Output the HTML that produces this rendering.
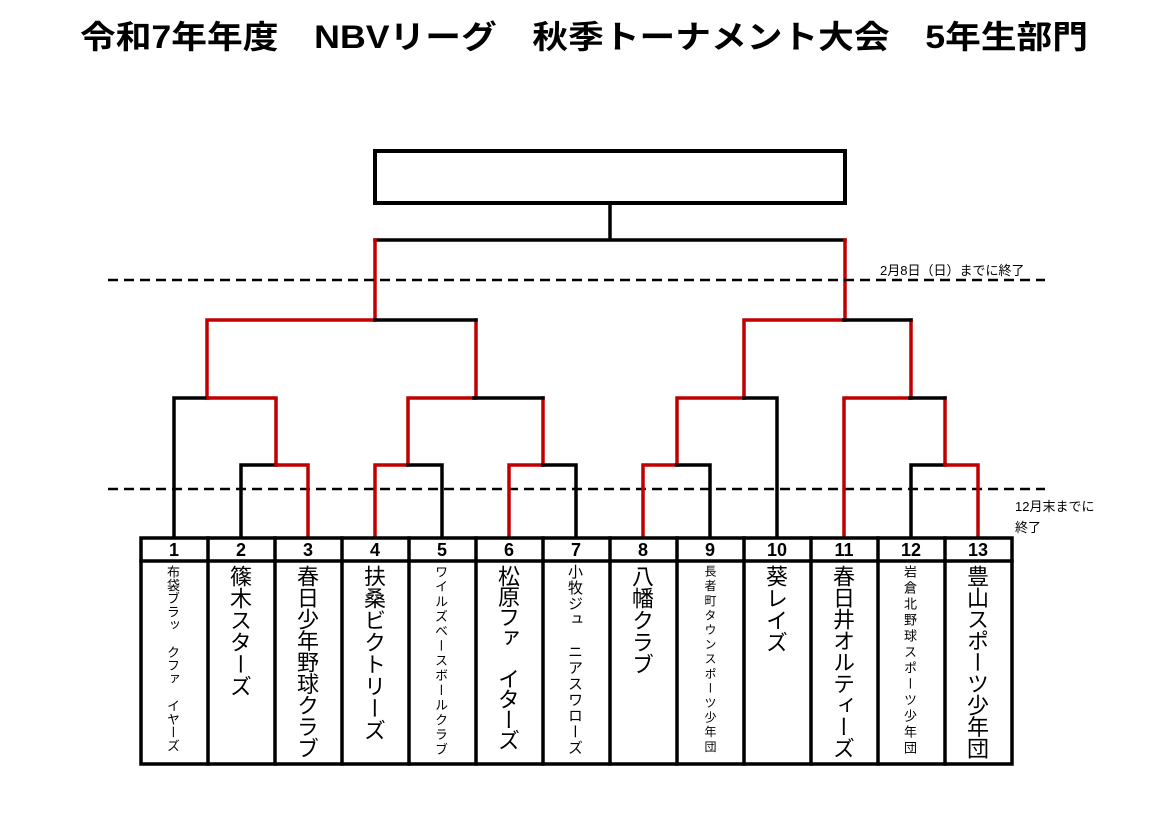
<!DOCTYPE html>
<html><head><meta charset="utf-8"><style>
body{margin:0;background:#fff;width:1169px;height:826px;overflow:hidden;position:relative;font-family:"Liberation Sans","Noto Sans CJK JP",sans-serif}
svg{position:absolute;left:0;top:0}
.v{position:absolute;writing-mode:vertical-rl;text-orientation:upright;font-family:"Noto Sans CJK JP","Liberation Sans",sans-serif;color:#000;white-space:pre;line-height:1}
</style></head><body>
<svg width="1169" height="826" xmlns="http://www.w3.org/2000/svg">
<text x="80" y="48" font-size="32" font-weight="bold" textLength="1008" lengthAdjust="spacingAndGlyphs" font-family="Liberation Sans, Noto Sans CJK JP, sans-serif">令和7年年度　NBVリーグ　秋季トーナメント大会　5年生部門</text>
<g fill="none" stroke-width="3.5" stroke-linecap="square">
<rect x="375" y="151" width="470" height="52" stroke="#000" stroke-width="4"/>
<path d="M610 203V240M375 240H845" stroke="#000"/>
<path d="M375 240V320M845 240V320" stroke="#c00000"/>
<path d="M108 280H1045M108 489H1045" stroke="#000" stroke-width="2.5" stroke-dasharray="10 6" stroke-linecap="butt"/>
<path d="M207 320H375M207 320V398M476 320V398" stroke="#c00000"/>
<path d="M375 320H476" stroke="#000"/>
<path d="M174 398H208M174 398V537" stroke="#000"/>
<path d="M208 398H276V465" stroke="#c00000"/>
<path d="M241 465H276M241 465V537" stroke="#000"/>
<path d="M276 465H308V537" stroke="#c00000"/>
<path d="M408 398H474M408 398V465M543 398V465" stroke="#c00000"/>
<path d="M474 398H543" stroke="#000"/>
<path d="M375 465H408M375 465V537" stroke="#c00000"/>
<path d="M408 465H442V537" stroke="#000"/>
<path d="M509 465H543M509 465V537" stroke="#c00000"/>
<path d="M543 465H576V537" stroke="#000"/>
<path d="M744 320H844M744 320V398M911 320V398" stroke="#c00000"/>
<path d="M844 320H911" stroke="#000"/>
<path d="M677 398H744M677 398V465" stroke="#c00000"/>
<path d="M744 398H777V537" stroke="#000"/>
<path d="M643 465H677M643 465V537" stroke="#c00000"/>
<path d="M677 465H710V537" stroke="#000"/>
<path d="M844 398H910M844 398V537M945 398V465" stroke="#c00000"/>
<path d="M910 398H945" stroke="#000"/>
<path d="M911 465H945M911 465V537" stroke="#000"/>
<path d="M945 465H978V537" stroke="#c00000"/>
<rect x="141" y="538" width="871" height="226" stroke="#000" stroke-width="3.5"/>
<path d="M141 561H1012" stroke="#000" stroke-width="3.5"/>
<path d="M208 538V764M275 538V764M342 538V764M409 538V764M476 538V764M543 538V764M610 538V764M677 538V764M744 538V764M811 538V764M878 538V764M945 538V764" stroke="#000" stroke-width="3.5"/>
</g>
<g font-size="18" font-weight="bold" text-anchor="middle" font-family="Liberation Sans, sans-serif">
<text x="174" y="556">1</text><text x="241" y="556">2</text><text x="308" y="556">3</text><text x="375" y="556">4</text><text x="442" y="556">5</text><text x="509" y="556">6</text><text x="576" y="556">7</text><text x="643" y="556">8</text><text x="710" y="556">9</text><text x="777" y="556">10</text><text x="844" y="556">11</text><text x="911" y="556">12</text><text x="978" y="556">13</text>
</g>
<g font-size="13" font-family="Liberation Sans, Noto Sans CJK JP, sans-serif">
<text x="880" y="275">2月8日（日）までに終了</text>
<text x="1015" y="511">12月末までに</text>
<text x="1015" y="532">終了</text>
</g>
</svg>
<div class="v" style="left:167px;top:565px;font-size:13px;letter-spacing:0.4px">布袋ブラッ クファ イヤーズ</div>
<div class="v" style="left:230px;top:565px;font-size:22px;letter-spacing:0px">篠木スターズ</div>
<div class="v" style="left:297px;top:565px;font-size:22px;letter-spacing:-0.5px">春日少年野球クラブ</div>
<div class="v" style="left:364px;top:565px;font-size:22px;letter-spacing:0px">扶桑ビクトリーズ</div>
<div class="v" style="left:435px;top:565px;font-size:13px;letter-spacing:1.8px">ワイルズベースボールクラブ</div>
<div class="v" style="left:498px;top:565px;font-size:22px;letter-spacing:-1.5px">松原ファ イターズ</div>
<div class="v" style="left:568px;top:564px;font-size:15px;letter-spacing:1px">小牧ジュ ニアスワローズ</div>
<div class="v" style="left:632px;top:565px;font-size:22px;letter-spacing:0px">八幡クラブ</div>
<div class="v" style="left:704px;top:565px;font-size:12px;letter-spacing:2.6px">長者町タウンスポーツ少年団</div>
<div class="v" style="left:766px;top:565px;font-size:22px;letter-spacing:0px">葵レイズ</div>
<div class="v" style="left:833px;top:565px;font-size:22px;letter-spacing:-0.5px">春日井オルティーズ</div>
<div class="v" style="left:904px;top:565px;font-size:13px;letter-spacing:3px">岩倉北野球スポーツ少年団</div>
<div class="v" style="left:967px;top:565px;font-size:22px;letter-spacing:-0.5px">豊山スポーツ少年団</div>
</body></html>
